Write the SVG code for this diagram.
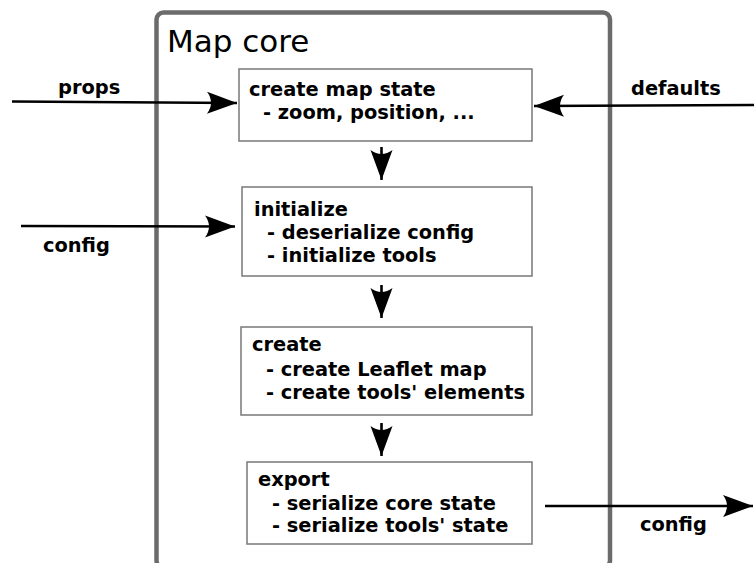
<svg xmlns="http://www.w3.org/2000/svg" width="754" height="563" viewBox="0 0 754 563">
  <style>
    .container { fill: #ffffff; stroke: #6b6b6b; stroke-width: 4.5; }
    .box { fill: #ffffff; stroke: #808080; stroke-width: 1.6; }
    .title { font-family: "DejaVu Sans", sans-serif; font-size: 31px; fill: #000000; }
    .t { font-family: "DejaVu Sans", sans-serif; font-weight: bold; font-size: 19.4px; fill: #000000; }
    .edge { fill: none; stroke: #000000; stroke-width: 2.6; }
  </style>
  <defs>
    <marker id="arrow" markerUnits="userSpaceOnUse" orient="auto" refX="0" refY="0" markerWidth="40" markerHeight="30" overflow="visible">
      <path d="M0,0 L-30,-11 Q-22,0 -30,11 Z" fill="#000000"/>
    </marker>
  </defs>
  <rect width="754" height="563" fill="#ffffff"/>

  <g id="map-core">
    <rect class="container" x="156.5" y="12.5" width="453.5" height="555" rx="7" ry="7"/>
    <text class="title" x="167" y="52">Map core</text>
  </g>

  <g id="node-create-map-state">
    <rect class="box" x="239" y="69" width="293" height="72"/>
    <text class="t" x="249" y="96">create map state</text>
    <text class="t" x="263" y="119">- zoom, position, ...</text>
  </g>

  <g id="node-initialize">
    <rect class="box" x="242" y="187" width="290" height="89"/>
    <text class="t" x="254" y="216">initialize</text>
    <text class="t" x="267" y="239">- deserialize config</text>
    <text class="t" x="267" y="262">- initialize tools</text>
  </g>

  <g id="node-create">
    <rect class="box" x="241" y="327" width="291" height="88"/>
    <text class="t" x="252" y="351">create</text>
    <text class="t" x="266" y="376">- create Leaflet map</text>
    <text class="t" x="266" y="399">- create tools' elements</text>
  </g>

  <g id="node-export">
    <rect class="box" x="247" y="462" width="285" height="82"/>
    <text class="t" x="258" y="486">export</text>
    <text class="t" x="272" y="510">- serialize core state</text>
    <text class="t" x="272" y="532">- serialize tools' state</text>
  </g>

  <g id="connectors">
    <line class="edge" x1="12" y1="101.5" x2="237" y2="103" marker-end="url(#arrow)"/>
    <text class="t" x="58" y="94">props</text>
    <line class="edge" x1="754" y1="105" x2="534" y2="106" marker-end="url(#arrow)"/>
    <text class="t" x="631" y="95">defaults</text>
    <line class="edge" x1="21" y1="226" x2="235" y2="226.5" marker-end="url(#arrow)"/>
    <text class="t" x="43" y="252">config</text>
    <line class="edge" x1="545" y1="506" x2="753" y2="506" marker-end="url(#arrow)"/>
    <text class="t" x="640" y="531">config</text>
    <line class="edge" x1="381.5" y1="147" x2="381.5" y2="180" marker-end="url(#arrow)"/>
    <line class="edge" x1="381.5" y1="285" x2="381.5" y2="318" marker-end="url(#arrow)"/>
    <line class="edge" x1="381.5" y1="423" x2="381.5" y2="456" marker-end="url(#arrow)"/>
  </g>
</svg>
